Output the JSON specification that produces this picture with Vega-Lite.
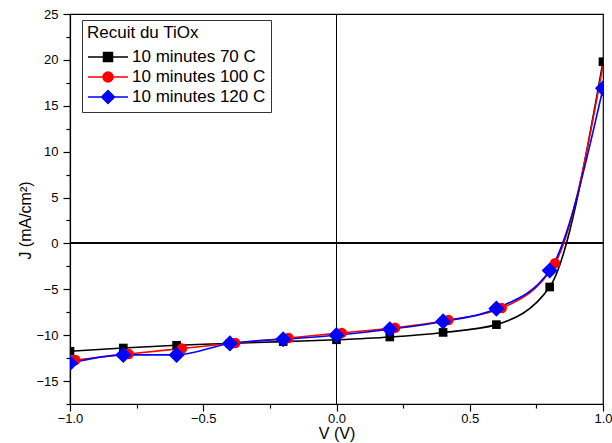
{
  "$schema": "https://vega.github.io/schema/vega-lite/v6.json",
  "width": 533,
  "height": 390,
  "autosize": {"type": "none"},
  "padding": {"left": 70, "top": 14, "right": 9, "bottom": 38},
  "background": "white",
  "config": {
    "view": {"stroke": "black", "strokeWidth": 1.2},
    "font": "Liberation Sans",
    "axis": {
      "domainColor": "black",
      "domainWidth": 1.2,
      "tickColor": "black",
      "tickWidth": 1.2,
      "labelColor": "black",
      "titleColor": "black",
      "labelFont": "Liberation Sans",
      "titleFont": "Liberation Sans",
      "labelFontSize": 13,
      "titleFontSize": 16,
      "titleFontWeight": "normal",
      "grid": false
    }
  },
  "data": {
    "values": [
      {"s": "10 minutes 70 C", "V": -1.0, "J": -11.75},
      {"s": "10 minutes 70 C", "V": -0.8, "J": -11.4},
      {"s": "10 minutes 70 C", "V": -0.6, "J": -11.1},
      {"s": "10 minutes 70 C", "V": -0.4, "J": -10.9},
      {"s": "10 minutes 70 C", "V": -0.2, "J": -10.7},
      {"s": "10 minutes 70 C", "V": 0.0, "J": -10.5},
      {"s": "10 minutes 70 C", "V": 0.2, "J": -10.2},
      {"s": "10 minutes 70 C", "V": 0.4, "J": -9.7},
      {"s": "10 minutes 70 C", "V": 0.6, "J": -8.85},
      {"s": "10 minutes 70 C", "V": 0.8, "J": -4.75},
      {"s": "10 minutes 70 C", "V": 1.0, "J": 19.8},
      {"s": "10 minutes 100 C", "V": -0.98, "J": -12.7},
      {"s": "10 minutes 100 C", "V": -0.78, "J": -12.05},
      {"s": "10 minutes 100 C", "V": -0.58, "J": -11.45},
      {"s": "10 minutes 100 C", "V": -0.38, "J": -10.85},
      {"s": "10 minutes 100 C", "V": -0.18, "J": -10.3},
      {"s": "10 minutes 100 C", "V": 0.02, "J": -9.75},
      {"s": "10 minutes 100 C", "V": 0.22, "J": -9.2},
      {"s": "10 minutes 100 C", "V": 0.42, "J": -8.35},
      {"s": "10 minutes 100 C", "V": 0.62, "J": -7.05},
      {"s": "10 minutes 100 C", "V": 0.82, "J": -2.15},
      {"s": "10 minutes 100 C", "V": 1.02, "J": 22.6},
      {"s": "10 minutes 120 C", "V": -1.0, "J": -13.05},
      {"s": "10 minutes 120 C", "V": -0.8, "J": -12.15},
      {"s": "10 minutes 120 C", "V": -0.6, "J": -12.15},
      {"s": "10 minutes 120 C", "V": -0.4, "J": -10.9},
      {"s": "10 minutes 120 C", "V": -0.2, "J": -10.45},
      {"s": "10 minutes 120 C", "V": 0.0, "J": -10.0},
      {"s": "10 minutes 120 C", "V": 0.2, "J": -9.35},
      {"s": "10 minutes 120 C", "V": 0.4, "J": -8.5},
      {"s": "10 minutes 120 C", "V": 0.6, "J": -7.1},
      {"s": "10 minutes 120 C", "V": 0.8, "J": -2.95},
      {"s": "10 minutes 120 C", "V": 1.0, "J": 16.9}
    ]
  },
  "encoding": {
    "x": {
      "field": "V", "type": "quantitative",
      "scale": {"domain": [-1, 1], "nice": false, "zero": false},
      "axis": {
        "title": "V (V)",
        "values": [-1, -0.75, -0.5, -0.25, 0, 0.25, 0.5, 0.75, 1],
        "format": ".1f",
        "labelExpr": "abs(datum.value * 2 - round(datum.value * 2)) < 0.001 ? datum.label : ''",
        "tickSize": {"expr": "abs(datum.value * 2 - round(datum.value * 2)) < 0.001 ? 7 : 4"},
        "labelPadding": 1,
        "labelFlush": false,
        "labelOverlap": false,
        "titleY": 34,
        "titleBaseline": "alphabetic"
      }
    },
    "y": {
      "field": "J", "type": "quantitative",
      "scale": {"domain": [-17.5, 25], "nice": false, "zero": false},
      "axis": {
        "title": "J (mA/cm²)",
        "values": [-17.5, -15, -12.5, -10, -7.5, -5, -2.5, 0, 2.5, 5, 7.5, 10, 12.5, 15, 17.5, 20, 22.5, 25],
        "labelExpr": "abs(datum.value / 5 - round(datum.value / 5)) < 0.001 ? datum.label : ''",
        "tickSize": {"expr": "abs(datum.value / 5 - round(datum.value / 5)) < 0.001 ? 7 : 4"},
        "labelPadding": 5,
        "labelFlush": false,
        "labelOverlap": false,
        "titleX": -40,
        "titleY": 206,
        "titleBaseline": "alphabetic",
        "titleAlign": "center"
      }
    }
  },
  "layer": [
    {
      "mark": {"type": "rule", "color": "black", "strokeWidth": 1},
      "encoding": {"x": {"datum": 0}, "y": null}
    },
    {
      "mark": {"type": "rule", "color": "black", "strokeWidth": 1},
      "encoding": {"y": {"datum": 0}, "x": null}
    },
    {
      "mark": {"type": "line", "interpolate": "monotone", "strokeWidth": 1.6, "clip": true},
      "encoding": {
        "color": {
          "field": "s", "type": "nominal",
          "scale": {"domain": ["10 minutes 70 C", "10 minutes 100 C", "10 minutes 120 C"], "range": ["#000000", "#ff0000", "#0000ff"]},
          "legend": {
            "title": "Recuit du TiOx",
            "orient": "none",
            "legendX": 12,
            "legendY": 6,
            "padding": 5,
            "strokeColor": "#333333",
            "fillColor": "white",
            "titleFont": "Liberation Sans",
            "titleFontSize": 17,
            "titleFontWeight": "normal",
            "titleColor": "black",
            "titlePadding": 4,
            "labelFont": "Liberation Sans",
            "labelFontSize": 17,
            "labelColor": "black",
            "symbolSize": 400,
            "symbolOffset": 10,
            "labelOffset": 13,
            "rowPadding": 1,
            "symbolStrokeWidth": 1.5,
            "encode": {
              "symbols": {
                "update": {
                  "shape": {"signal": "datum.value === '10 minutes 70 C' ? 'M-2,0H2M-0.45,-0.45H0.45V0.45H-0.45Z' : datum.value === '10 minutes 100 C' ? 'M-2,0H2M-0.5,0A0.5,0.5 0 1,0 0.5,0A0.5,0.5 0 1,0 -0.5,0Z' : 'M-2,0H2M0,-0.65L0.65,0L0,0.65L-0.65,0Z'"},
                  "fill": {"signal": "datum.value === '10 minutes 70 C' ? '#000000' : datum.value === '10 minutes 100 C' ? '#ff0000' : '#0000ff'"},
                  "stroke": {"signal": "datum.value === '10 minutes 70 C' ? '#000000' : datum.value === '10 minutes 100 C' ? '#ff0000' : '#0000ff'"},
                  "size": {"value": 400},
                  "strokeWidth": {"value": 1.5},
                  "opacity": {"value": 1},
                  "fillOpacity": {"value": 1}
                }
              }
            }
          }
        },
        "detail": {"field": "s"}
      }
    },
    {
      "transform": [{"filter": "datum.s === '10 minutes 70 C'"}],
      "mark": {"type": "point", "shape": "square", "filled": true, "opacity": 1, "color": "#000000", "size": 75, "clip": true},
      "encoding": {}
    },
    {
      "transform": [{"filter": "datum.s === '10 minutes 100 C'"}],
      "mark": {"type": "point", "shape": "circle", "filled": true, "opacity": 1, "color": "#ff0000", "size": 110, "clip": true},
      "encoding": {}
    },
    {
      "transform": [{"filter": "datum.s === '10 minutes 120 C'"}],
      "mark": {"type": "point", "shape": "diamond", "filled": true, "opacity": 1, "color": "#0000ff", "size": 260, "clip": true},
      "encoding": {}
    }
  ]
}
